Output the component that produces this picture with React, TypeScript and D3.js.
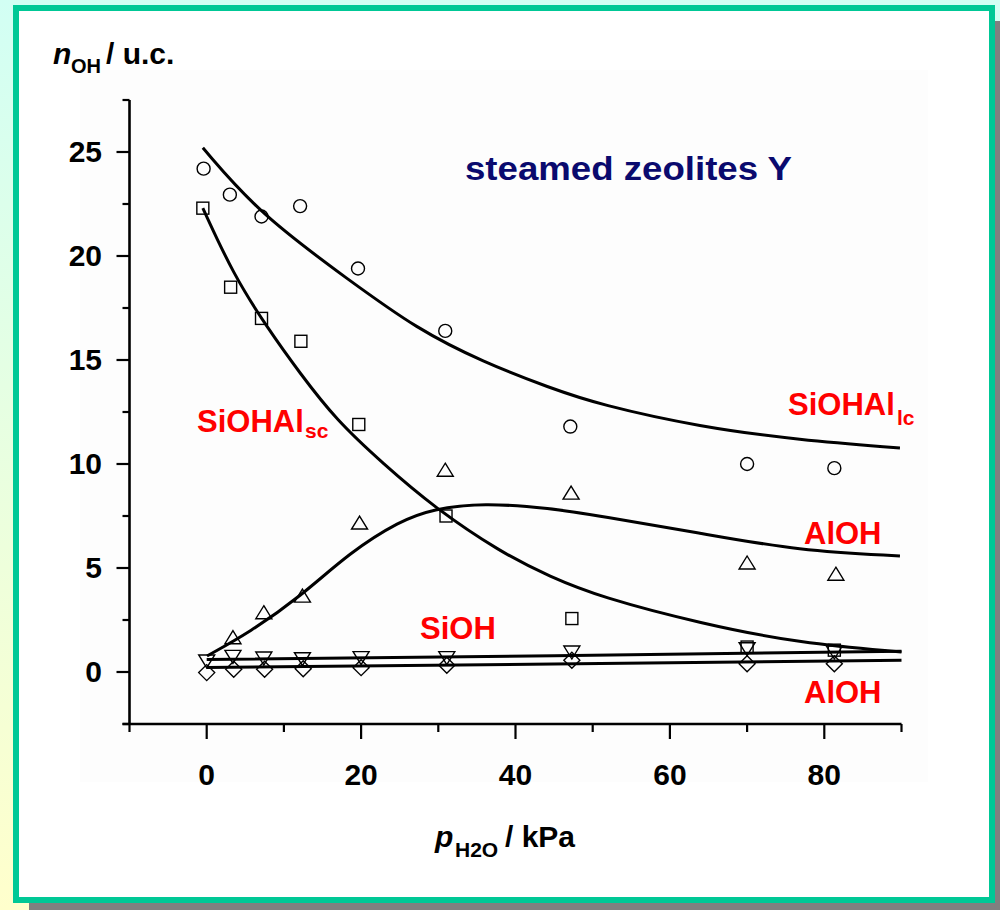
import React from "react";
import * as d3 from "d3";

// ---- data ----
const xTicksMajor = [0, 20, 40, 60, 80];
const xTicksMinor = [-10, 10, 30, 50, 70, 90];
const yTicksMajor = [0, 5, 10, 15, 20, 25];
const yTicksMinor = [-2.5, 2.5, 7.5, 12.5, 17.5, 22.5, 27.5];

// SiOHAl_lc (circles)
const circleX = [-0.4, 3.0, 7.1, 12.1, 19.6, 30.9, 47.1, 70.0, 81.3];
const circleY = [24.2, 22.95, 21.9, 22.4, 19.4, 16.4, 11.8, 10.0, 9.8];
// SiOHAl_sc (squares)
const squareX = [-0.5, 3.1, 7.1, 12.2, 19.7, 31.0, 47.3, 70.0, 81.3];
const squareY = [22.3, 18.5, 17.0, 15.9, 11.9, 7.5, 2.57, 1.2, 1.05];
// AlOH (up triangles)
const triUpX = [3.4, 7.4, 12.4, 19.8, 30.9, 47.2, 70.0, 81.5];
const triUpY = [1.65, 2.85, 3.65, 7.16, 9.7, 8.6, 5.24, 4.7];
// SiOH (down triangles)
const triDownX = [0, 3.4, 7.4, 12.4, 20.0, 31.1, 47.3, 70.0, 81.3];
const triDownY = [0.53, 0.75, 0.67, 0.64, 0.69, 0.69, 0.96, 1.12, 0.96];
// AlOH low (diamonds)
const diamondX = [0, 3.5, 7.5, 12.5, 20.0, 31.1, 47.3, 70.0, 81.3];
const diamondY = [-0.03, 0.13, 0.13, 0.16, 0.21, 0.32, 0.56, 0.4, 0.4];

// fitted curves
const lcCurveX = [-0.5, 6.9, 18.6, 27.2, 35.8, 44.5, 50.9, 63.9, 76.8, 89.8];
const lcCurveY = [25.2, 22.0, 18.8, 16.5, 14.9, 13.65, 12.85, 11.78, 11.15, 10.77];
const scCurveX = [-0.5, 3.4, 7.75, 12.1, 16.8, 22.9, 29.4, 38, 44.5, 51, 64, 77, 90];
const scCurveY = [22.3, 19.15, 16.6, 14.35, 12.1, 10.0, 7.93, 5.77, 4.57, 3.6, 2.33, 1.37, 0.96];
const alCurveX = [0.04, 5.6, 12.1, 18.6, 25.0, 29.3, 35.8, 44.5, 50.9, 63.9, 76.8, 89.8];
const alCurveY = [0.77, 1.92, 3.61, 5.77, 7.26, 7.84, 8.13, 7.88, 7.5, 6.68, 5.82, 5.58];
const siohLineX = [0, 45, 90];
const siohLineY = [0.6, 0.78, 1.0];
const alohLineX = [0, 45, 90];
const alohLineY = [0.22, 0.38, 0.56];

const FONT = "'Liberation Sans', Arial, Helvetica, sans-serif";

export default function App() {
  const x = d3.scaleLinear().domain([-10, 90]).range([129.5, 901.5]);
  const y = d3.scaleLinear().domain([-2.5, 27.5]).range([724, 100]);

  const zip = (xs: number[], ys: number[]) => xs.map((v, i) => [v, ys[i]] as [number, number]);
  const smooth = d3
    .line<[number, number]>()
    .x((d) => x(d[0]))
    .y((d) => y(d[1]))
    .curve(d3.curveBasis);
  const straight = d3
    .line<[number, number]>()
    .x((d) => x(d[0]))
    .y((d) => y(d[1]))
    .curve(d3.curveLinear);

  const mk = { fill: "none", stroke: "#000", strokeWidth: 1.4 };
  const curveStyle = { fill: "none", stroke: "#000", strokeWidth: 3 };

  return (
    <svg
      width={1000}
      height={910}
      style={{ position: "absolute", left: 0, top: 0 }}
      fontFamily={FONT}
    >
      <defs>
        <linearGradient id="bg" x1="0" y1="0" x2="0" y2="1">
          <stop offset="0" stopColor="#D2FFF4" />
          <stop offset="1" stopColor="#FFFFCC" />
        </linearGradient>
      </defs>
      <rect x={0} y={0} width={1000} height={910} fill="url(#bg)" />
      {/* shadow */}
      <rect x={29} y={21} width={1000} height={1000} fill="#808080" />
      {/* frame */}
      <rect x={16} y={8} width={976} height={892} fill="#fff" stroke="#00C896" strokeWidth={6} />
      {/* scanned area tint */}
      <rect x={80} y={70} width={848} height={712} fill="#FDFDFD" />

      {/* axes */}
      <line x1={x(-10)} y1={y(27.5)} x2={x(-10)} y2={y(-2.5)} stroke="#000" strokeWidth={2.6} />
      <line x1={x(-10) - 7} y1={y(-2.5)} x2={x(90)} y2={y(-2.5)} stroke="#000" strokeWidth={2.6} />
      {yTicksMajor.map((t) => (
        <line key={"ym" + t} x1={x(-10) - 13} x2={x(-10)} y1={y(t)} y2={y(t)} stroke="#000" strokeWidth={2.2} />
      ))}
      {yTicksMinor.map((t) => (
        <line key={"yn" + t} x1={x(-10) - 7} x2={x(-10)} y1={y(t)} y2={y(t)} stroke="#000" strokeWidth={2.2} />
      ))}
      {xTicksMajor.map((t) => (
        <line key={"xm" + t} x1={x(t)} x2={x(t)} y1={y(-2.5)} y2={y(-2.5) + 15} stroke="#000" strokeWidth={2.2} />
      ))}
      {xTicksMinor.map((t) => (
        <line key={"xn" + t} x1={x(t)} x2={x(t)} y1={y(-2.5)} y2={y(-2.5) + 8} stroke="#000" strokeWidth={2.2} />
      ))}
      {yTicksMajor.map((t) => (
        <text key={"yl" + t} x={102} y={y(t) + 10} textAnchor="end" fontSize={30} fontWeight="bold">
          {t}
        </text>
      ))}
      {xTicksMajor.map((t) => (
        <text key={"xl" + t} x={x(t)} y={785} textAnchor="middle" fontSize={30} fontWeight="bold">
          {t}
        </text>
      ))}

      {/* axis titles */}
      <text fontWeight="bold" fontSize={30}>
        <tspan x={53} y={64} fontStyle="italic">n</tspan>
        <tspan x={71} y={73} fontSize={20}>OH</tspan>
        <tspan x={106} y={64}>/ u.c.</tspan>
      </text>
      <text fontWeight="bold" fontSize={30}>
        <tspan x={435} y={847} fontStyle="italic">p</tspan>
        <tspan x={455} y={857} fontSize={21}>H2O</tspan>
        <tspan x={505} y={847}>/ kPa</tspan>
      </text>

      <text x={465} y={180} fontSize={34} fontWeight="bold" fill="#0A0A6E" textLength={327} lengthAdjust="spacingAndGlyphs">
        steamed zeolites Y
      </text>

      {/* curves */}
      <path d={smooth(zip(lcCurveX, lcCurveY)) || ""} {...curveStyle} />
      <path d={smooth(zip(scCurveX, scCurveY)) || ""} {...curveStyle} />
      <path d={smooth(zip(alCurveX, alCurveY)) || ""} {...curveStyle} />
      <path d={straight(zip(siohLineX, siohLineY)) || ""} {...curveStyle} />
      <path d={straight(zip(alohLineX, alohLineY)) || ""} {...curveStyle} />

      {/* markers */}
      {circleX.map((v, i) => (
        <circle key={"c" + i} cx={x(v)} cy={y(circleY[i])} r={6.5} {...mk} />
      ))}
      {squareX.map((v, i) => (
        <rect key={"s" + i} x={x(v) - 6} y={y(squareY[i]) - 6} width={12} height={12} {...mk} />
      ))}
      {triUpX.map((v, i) => {
        const cx = x(v), cy = y(triUpY[i]);
        return <path key={"tu" + i} d={`M${cx},${cy - 7}L${cx + 8},${cy + 6}L${cx - 8},${cy + 6}Z`} {...mk} />;
      })}
      {triDownX.map((v, i) => {
        const cx = x(v), cy = y(triDownY[i]);
        return <path key={"td" + i} d={`M${cx - 8},${cy - 6}L${cx + 8},${cy - 6}L${cx},${cy + 7}Z`} {...mk} />;
      })}
      {diamondX.map((v, i) => {
        const cx = x(v), cy = y(diamondY[i]);
        return <path key={"d" + i} d={`M${cx},${cy - 8}L${cx + 8},${cy}L${cx},${cy + 8}L${cx - 8},${cy}Z`} {...mk} />;
      })}

      {/* red labels */}
      <g fill="#FF0000" fontWeight="bold">
        <text fontSize={31}>
          <tspan x={788} y={415}>SiOHAl</tspan>
          <tspan x={897} y={425} fontSize={21}>lc</tspan>
        </text>
        <text fontSize={31}>
          <tspan x={197} y={432}>SiOHAl</tspan>
          <tspan x={305} y={438} fontSize={21}>sc</tspan>
        </text>
        <text x={804} y={544} fontSize={31}>AlOH</text>
        <text x={804} y={703} fontSize={31}>AlOH</text>
        <text x={420} y={639} fontSize={31}>SiOH</text>
      </g>
    </svg>
  );
}
